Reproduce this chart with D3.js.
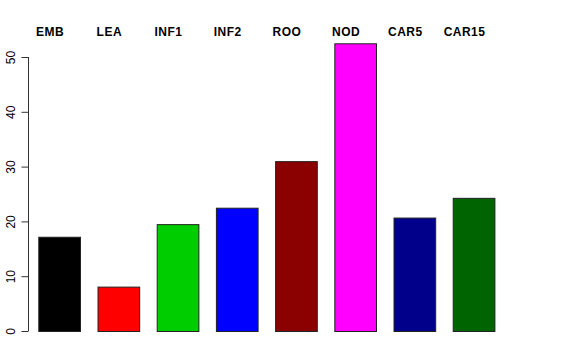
<!DOCTYPE html>
<html>
<head>
<meta charset="utf-8">
<script src="https://cdn.jsdelivr.net/npm/d3@7"></script>
<style>
  html, body { margin: 0; padding: 0; background: #fff; }
  svg { display: block; }
</style>
</head>
<body>
<svg id="chart" width="576" height="360"></svg>
<script>
const categories = ["EMB", "LEA", "INF1", "INF2", "ROO", "NOD", "CAR5", "CAR15"];
const values = [17.2, 8.1, 19.5, 22.5, 31.0, 52.5, 20.7, 24.3];
const colors = ["#000000", "#FF0000", "#00CD00", "#0000FF", "#8B0000", "#FF00FF", "#00008B", "#006400"];
const yTicks = [0, 10, 20, 30, 40, 50];

const svg = d3.select("#chart");
const font = "'Liberation Sans', Arial, Helvetica, sans-serif";

const x = d3.scaleBand().domain(categories).range([38.3, 494.4]).paddingInner(0.296).paddingOuter(0);
const y = d3.scaleLinear().domain([0, 50]).range([331, 57]);

// bars
svg.append("g").selectAll("rect").data(categories).join("rect")
  .attr("x", d => x(d) + 0.5)
  .attr("y", (d, i) => y(values[i]) + 0.5)
  .attr("width", x.bandwidth())
  .attr("height", (d, i) => y(0) - y(values[i]))
  .attr("fill", (d, i) => colors[i])
  .attr("stroke", "#222")
  .attr("stroke-width", 1);

// y axis
const axis = d3.axisLeft(y).tickValues(yTicks).tickSize(7).tickSizeOuter(0).tickPadding(0);
const ag = svg.append("g").attr("transform", "translate(28.5,0)").call(axis);
ag.select(".domain").attr("stroke", "#333").attr("d", `M0,${y(0)}V${y(50)}`);
ag.selectAll(".tick line").attr("stroke", "#333");
ag.selectAll(".tick text")
  .attr("x", 0).attr("dy", null)
  .attr("transform", "translate(-13.5,0) rotate(-90)")
  .attr("text-anchor", "middle")
  .attr("font-family", font)
  .attr("font-size", 12)
  .attr("fill", "#000");

// top labels
svg.append("g").selectAll("text").data(categories).join("text")
  .attr("x", d => x(d) + x.bandwidth() / 2 - 9)
  .attr("y", 35.5)
  .attr("text-anchor", "middle")
  .attr("font-family", font)
  .attr("font-weight", "bold")
  .attr("font-size", 12)
  .attr("letter-spacing", "0.5px")
  .attr("fill", "#000")
  .text(d => d);
</script>
</body>
</html>
